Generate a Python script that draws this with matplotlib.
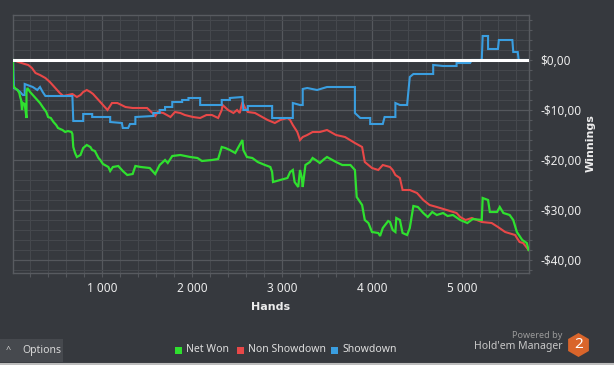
import matplotlib
matplotlib.use("Agg")
import matplotlib.pyplot as plt
from matplotlib.ticker import MultipleLocator, FuncFormatter
from matplotlib.patches import Rectangle, RegularPolygon
from matplotlib.lines import Line2D

plt.rcParams["font.family"] = ["Noto Sans", "DejaVu Sans"]

# ---------------- data (hands, $) ----------------
net_hands = [10, 10, 30, 60, 80, 90, 100, 110, 120, 140, 160, 160, 170, 200, 230, 280, 310, 340, 380, 400,
             430, 460, 490, 510, 560, 590, 620, 660, 670, 680, 700, 720, 760, 790, 830, 870, 890, 920, 960, 980,
             1010, 1070, 1090, 1120, 1180, 1230, 1280, 1340, 1370, 1430, 1530, 1590, 1640, 1700, 1730, 1780, 1870,
             1980, 2060, 2110, 2220, 2290, 2330, 2370, 2420, 2480, 2510, 2560, 2570, 2610, 2670, 2730, 2810, 2870,
             2890, 2900, 2980, 3060, 3090, 3120, 3140, 3180, 3200, 3220, 3230, 3260, 3310, 3340, 3390, 3420, 3470,
             3500, 3560, 3600, 3670, 3760, 3810, 3830, 3890, 3920, 3960, 4000, 4070, 4090, 4120, 4180, 4200, 4230,
             4260, 4270, 4310, 4340, 4390, 4420, 4460, 4510, 4570, 4620, 4670, 4720, 4790, 4840, 4900, 4980, 5060,
             5120, 5220, 5230, 5290, 5310, 5390, 5420, 5460, 5530, 5570, 5610, 5670, 5720, 5740]
net_won = [0.0, -5.0, -5.6, -6.0, -6.6, -7.4, -8.0, -10.0, -8.6, -8.8, -11.6, -6.4, -5.6, -6.4, -7.0, -8.0, -8.6,
           -9.4, -10.4, -11.4, -11.6, -12.4, -13.0, -13.6, -14.0, -14.4, -14.2, -14.4, -14.8, -17.4, -18.6, -19.4,
           -19.0, -17.6, -17.0, -17.4, -18.0, -18.2, -19.6, -20.0, -20.8, -21.4, -22.2, -21.4, -21.2, -22.2, -23.0,
           -22.8, -21.2, -21.4, -21.6, -22.8, -21.0, -20.0, -20.6, -19.2, -19.0, -19.4, -19.6, -20.2, -20.0, -19.8,
           -17.4, -17.6, -18.0, -18.6, -17.6, -16.0, -18.0, -19.4, -19.6, -20.4, -21.0, -21.4, -22.4, -24.4, -24.0,
           -23.6, -22.4, -22.0, -24.4, -25.4, -22.0, -23.6, -25.4, -21.0, -20.4, -19.6, -20.2, -20.6, -19.8, -19.4,
           -20.0, -20.4, -21.0, -21.0, -22.0, -27.4, -29.0, -32.0, -32.6, -34.4, -34.6, -35.2, -33.6, -32.2, -32.4,
           -34.0, -34.4, -31.6, -32.0, -34.6, -35.0, -33.6, -29.2, -29.4, -30.6, -31.4, -30.4, -31.0, -30.6, -31.2,
           -31.0, -32.0, -32.6, -31.8, -32.0, -27.6, -28.0, -30.4, -30.4, -29.4, -30.6, -31.0, -32.0, -34.4, -36.0,
           -36.6, -38.0]

nsd_hands = [10, 70, 140, 180, 220, 260, 310, 370, 420, 480, 530, 570, 620, 670, 720, 760, 790, 830, 870, 900,
             960, 1010, 1060, 1110, 1170, 1260, 1340, 1420, 1500, 1560, 1590, 1620, 1680, 1760, 1810, 1870, 1920,
             2010, 2090, 2160, 2220, 2290, 2330, 2340, 2400, 2460, 2500, 2530, 2560, 2590, 2620, 2700, 2780, 2840,
             2920, 2980, 3060, 3090, 3120, 3170, 3200, 3230, 3280, 3340, 3420, 3500, 3560, 3600, 3700, 3810, 3890,
             3920, 4000, 4070, 4120, 4200, 4230, 4260, 4310, 4340, 4420, 4500, 4570, 4640, 4720, 4830, 4940, 4980,
             5040, 5110, 5220, 5330, 5400, 5480, 5590, 5640, 5680, 5740]
non_showdown = [0.0, -0.4, -0.8, -1.0, -1.6, -2.6, -3.0, -3.6, -4.4, -5.6, -6.6, -7.2, -7.0, -6.8, -7.4, -7.0,
                -6.4, -6.0, -6.4, -6.8, -8.0, -9.0, -10.0, -8.6, -8.6, -9.4, -9.6, -9.6, -9.6, -10.6, -11.2, -10.4,
                -10.6, -11.4, -10.4, -10.6, -11.0, -11.4, -11.6, -11.0, -11.0, -11.6, -10.0, -9.0, -10.0, -10.6,
                -10.0, -10.6, -8.4, -9.6, -10.4, -10.6, -11.4, -12.0, -12.6, -12.0, -11.6, -12.0, -13.0, -14.4,
                -16.0, -15.4, -15.0, -14.4, -14.4, -14.0, -14.6, -15.0, -15.4, -16.6, -17.4, -20.4, -21.6, -22.0,
                -21.0, -21.4, -22.0, -23.0, -23.6, -26.0, -26.0, -26.6, -28.0, -29.0, -29.4, -30.0, -30.6, -31.4,
                -32.0, -31.6, -32.4, -32.6, -33.4, -34.4, -35.0, -36.4, -36.6, -38.0]

sd_hands = [10, 20, 60, 90, 120, 140, 140, 230, 280, 310, 340, 370, 670, 680, 790, 790, 890, 890, 1090, 1090,
            1220, 1230, 1290, 1310, 1370, 1370, 1570, 1570, 1640, 1640, 1700, 1700, 1780, 1780, 1890, 1890, 1960,
            1960, 2090, 2090, 2330, 2330, 2420, 2420, 2560, 2570, 2620, 2620, 2890, 2890, 3120, 3120, 3200, 3230,
            3230, 3280, 3390, 3500, 3810, 3810, 3870, 3980, 3980, 4120, 4140, 4260, 4260, 4310, 4390, 4420, 4460,
            4680, 4680, 4790, 4940, 4940, 5090, 5110, 5220, 5230, 5290, 5290, 5400, 5410, 5560, 5570, 5620, 5630,
            5740]
showdown = [0.0, -5.6, -6.0, -6.4, -7.0, -7.0, -4.8, -5.4, -6.0, -5.4, -6.4, -7.2, -7.2, -12.2, -12.2, -10.8,
            -10.8, -11.4, -11.4, -12.4, -12.6, -13.6, -13.6, -12.8, -12.8, -11.4, -11.2, -10.6, -10.6, -10.0, -10.0,
            -9.4, -9.4, -8.4, -8.4, -8.0, -8.0, -7.6, -7.6, -9.0, -9.0, -8.0, -8.0, -7.6, -7.4, -10.0, -10.0, -9.2,
            -9.2, -11.6, -11.6, -8.6, -9.0, -9.0, -5.8, -5.6, -6.0, -5.4, -5.4, -10.6, -11.6, -11.6, -12.8, -12.8,
            -11.4, -11.4, -8.6, -9.0, -9.0, -3.4, -2.8, -2.8, -1.0, -1.2, -1.2, -0.6, -0.6, 0.0, 0.0, 4.8, 4.8, 2.2,
            2.2, 4.0, 4.0, 1.6, 1.6, 0.0, 0.0]

series_names = ["Net Won", "Non Showdown", "Showdown"]
x_ticks = [1000, 2000, 3000, 4000, 5000]
y_ticks = [0, -10, -20, -30, -40]

# ---------------- style ----------------
BG = "#36393e"
GREEN = "#2fe02f"
RED = "#e84848"
BLUE = "#3a9ee0"
GRID_MINOR = "#45484d"
GRID_MAJOR = "#55585d"
TEXT = "#ececec"

W, H = 614, 365
fig = plt.figure(figsize=(W / 100, H / 100), dpi=100, facecolor=BG)
ax = fig.add_axes([13 / W, 92 / H, 516 / W, 258 / H])
ax.set_facecolor(BG)

ax.plot(nsd_hands, non_showdown, color=RED, lw=1.5, zorder=3, solid_joinstyle="miter")
ax.plot(sd_hands, showdown, color=BLUE, lw=1.5, zorder=3, solid_joinstyle="miter")
ax.plot(net_hands, net_won, color=GREEN, lw=1.6, zorder=4, solid_joinstyle="miter")
ax.axhline(0, color="white", lw=2.2, zorder=5)

ax.set_xlim(10, 5745)
ax.set_ylim(-42.6, 9.0)

ax.xaxis.set_major_locator(MultipleLocator(1000))
ax.xaxis.set_minor_locator(MultipleLocator(200))
ax.yaxis.set_major_locator(MultipleLocator(10))
ax.yaxis.set_minor_locator(MultipleLocator(2))

ax.grid(which="minor", color=GRID_MINOR, lw=0.8, zorder=0)
ax.grid(which="major", color=GRID_MAJOR, lw=0.9, zorder=0)
ax.set_axisbelow(True)

def yfmt(v, pos):
    v = round(v)
    s = f"{abs(v):.2f}".replace(".", ",")
    return ("-$" if v < 0 else "$") + s

def xfmt(v, pos):
    return f"{int(round(v)):,}".replace(",", " ")

ax.yaxis.tick_right()
ax.yaxis.set_major_formatter(FuncFormatter(yfmt))
ax.xaxis.set_major_formatter(FuncFormatter(xfmt))
ax.set_xticks(x_ticks)
ax.set_yticks(y_ticks)
ax.tick_params(axis="both", which="both", colors=GRID_MAJOR, labelcolor=TEXT, labelsize=8.5)
ax.tick_params(axis="x", which="both", length=3, width=0.8, pad=3.5)
ax.tick_params(axis="y", which="both", length=2.5, width=0.8, pad=5.5)
for s in ax.spines.values():
    s.set_color("#585b60")
    s.set_linewidth(1.0)

fig.text(271 / W, 1 - 307 / H, "Hands", ha="center", va="center", color=TEXT,
         fontsize=8, fontweight="bold", family="DejaVu Sans")
fig.text(591 / W, 1 - 143 / H, "Winnings", ha="center", va="center", color=TEXT,
         fontsize=8, fontweight="bold", rotation=90, family="DejaVu Sans")

# ---------------- bottom bar ----------------
fig.add_artist(Rectangle((0, 3 / H), 63 / W, 23 / H, transform=fig.transFigure,
                         facecolor="#46494e", edgecolor="none"))
fig.text(8 / W, 1 - 350 / H, "^", ha="center", va="center", color="#d0d0d0", fontsize=6.5)
fig.text(22 / W, 1 - 351 / H, "Options", ha="left", va="center", color="#d8d8d8", fontsize=7.5)
fig.add_artist(Line2D([0, 1], [1.5 / H, 1.5 / H], transform=fig.transFigure,
                      color="#bdbdbd", lw=1.5))

# legend
leg_items = [(178, GREEN, series_names[0]), (240, RED, series_names[1]), (334, BLUE, series_names[2])]
for x0, c, name in leg_items:
    fig.add_artist(Rectangle(((x0 - 3) / W, (365 - 354) / H), 7 / W, 7 / H,
                             transform=fig.transFigure, facecolor=c, edgecolor="none"))
    fig.text((x0 + 8) / W, 1 - 350 / H, name, ha="left", va="center", color="#dedede", fontsize=7.5)

# branding
fig.text(562 / W, 1 - 336 / H, "Powered by", ha="right", va="center", color="#9a9a9a", fontsize=6.5)
fig.text(563 / W, 1 - 347 / H, "Hold'em Manager", ha="right", va="center", color="#c8c8c8", fontsize=7.5)
hexp = RegularPolygon((5.785, (365 - 345) / 100), numVertices=6, radius=0.12, orientation=0,
                      transform=fig.dpi_scale_trans, facecolor="#d9652b", edgecolor="none")
fig.add_artist(hexp)
fig.text(578.5 / W, 1 - 345 / H, "2", ha="center", va="center", color="white",
         fontsize=11, fontweight="bold")

fig.savefig("out.png", dpi=100, facecolor=BG)
